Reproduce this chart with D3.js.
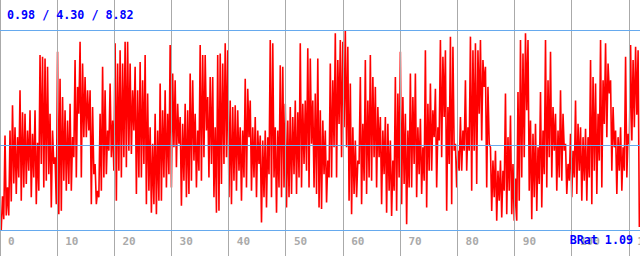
<!DOCTYPE html>
<html><head><meta charset="utf-8">
<script src="https://cdn.jsdelivr.net/npm/d3@7"></script>
<style>html,body{margin:0;padding:0;background:#fff;overflow:hidden}</style>
</head><body><svg id="c" width="640" height="256"></svg>
<script>
// Summary stats shown in the header (min / avg / max)
const statMin = 0.98, statAvg = 4.30, statMax = 8.82;
const bratLabel = "BRat 1.09";
const xTicks = [0,10,20,30,40,50,60,70,80,90,100,110];
const xDomainMax = 112;
// Series values (left to right)
const values = [
1.55,0.98,2.30,1.40, 4.68,1.55,2.65,1.55, 4.88,2.10,5.87,2.80, 5.01,2.39,4.62,3.04,
6.46,2.13,5.60,2.65, 5.54,2.78,4.88,3.30, 5.67,2.26,4.75,3.04, 5.67,1.99,4.40,2.52,
7.84,3.57,7.77,2.65, 7.70,2.91,7.38,3.17, 5.54,1.86,4.88,3.57, 3.83,1.99,7.97,1.60,
6.91,1.73,6.19,2.91, 5.67,2.52,5.27,2.78, 5.93,2.52,4.62,3.83, 7.64,3.04,6.59,5.54,
8.36,3.04,7.51,4.62, 6.98,4.62,6.46,4.88, 6.46,1.99,5.80,3.17, 3.57,1.99,2.52,2.26,
5.54,2.52,7.38,3.04, 6.46,3.17,4.88,4.09, 6.72,3.83,5.27,3.30, 8.30,2.13,7.51,3.30,
8.03,3.04,7.51,3.83, 8.36,3.44,8.36,4.09, 7.51,3.96,6.46,4.88, 7.38,2.39,6.46,3.04,
7.57,3.04,6.85,3.57, 7.84,1.99,6.33,2.52, 5.01,1.66,4.36,1.99, 5.54,1.60,4.88,2.13,
6.72,2.13,5.67,3.04, 6.46,2.65,5.54,3.17, 8.23,2.65,7.11,4.22, 6.85,3.44,5.93,4.36,
5.41,1.93,5.14,2.91, 5.93,2.26,5.67,2.39, 7.11,2.91,6.85,3.70, 5.54,2.65,4.88,3.30,
8.23,2.91,7.84,3.83, 7.84,4.88,6.19,3.04, 6.98,3.57,6.98,2.26, 5.01,1.66,7.84,1.73,
7.90,2.78,7.51,3.57, 8.30,3.83,8.03,2.26, 6.06,1.99,5.80,2.91, 5.87,2.52,5.67,3.30,
5.01,2.13,4.88,3.04, 6.91,2.65,6.52,4.62, 6.06,2.52,5.01,3.04, 5.41,2.26,4.88,3.57,
4.68,1.27,4.49,2.26, 4.88,1.86,4.62,3.17, 8.43,2.26,8.30,3.04, 5.01,1.66,4.88,2.65,
7.44,2.26,7.38,2.65, 5.93,1.86,5.27,2.26, 5.80,2.39,5.41,3.17, 6.06,2.39,5.60,3.04,
8.30,2.65,5.93,3.57, 6.06,3.30,8.10,2.65, 7.70,4.36,6.06,2.65, 6.33,2.39,7.70,1.86,
5.67,1.80,5.27,3.17, 4.88,2.06,3.70,3.04, 7.51,3.04,6.85,4.22, 8.69,3.04,7.64,5.14,
8.43,3.83,8.36,5.01, 8.82,4.22,8.16,2.13, 6.72,1.60,5.01,2.39, 4.49,2.26,3.70,3.57,
6.98,1.99,5.14,2.91, 7.64,2.39,6.06,3.04, 7.84,2.91,6.98,3.83, 6.59,2.65,5.80,3.83,
5.41,1.99,4.88,3.17, 5.41,1.66,5.14,2.52, 4.49,1.53,3.70,2.52, 6.98,1.73,6.33,3.04,
7.97,1.99,6.19,2.78, 5.54,1.21,4.88,2.65, 7.11,2.65,6.19,3.57, 7.11,2.26,5.01,3.17,
5.34,2.39,4.22,2.91, 8.03,1.86,5.93,3.30, 6.72,3.30,5.67,4.62, 6.52,2.65,5.01,4.49,
8.43,3.83,7.77,5.41, 8.03,1.73,5.80,3.57, 8.56,1.99,8.16,4.09, 4.36,2.65,4.09,3.30,
5.41,3.30,4.88,4.09, 6.85,3.30,5.01,4.09, 8.56,2.52,8.03,4.09, 8.30,2.78,8.03,5.54,
8.43,4.49,7.64,6.59, 7.38,2.65,6.59,4.36, 4.22,1.73,3.70,2.26, 4.09,1.34,3.30,2.13,
3.70,1.47,3.30,2.52, 6.33,1.60,4.62,2.52, 5.47,1.60,3.57,1.34, 3.00,1.34,6.39,2.13,
8.43,3.04,7.90,3.83, 8.69,5.67,8.43,2.52, 5.27,1.40,4.75,2.26, 5.14,1.73,4.22,2.78,
6.39,1.86,4.88,3.17, 8.43,2.65,6.85,3.83, 7.97,3.04,5.80,4.09, 5.54,2.52,4.88,3.04,
6.46,2.91,5.54,4.09, 4.36,2.39,3.57,2.91, 4.75,2.26,4.09,3.04, 6.06,2.39,5.14,3.30,
5.01,2.13,4.62,2.91, 4.95,2.13,4.62,3.04, 7.64,1.99,6.98,3.30, 6.72,2.39,5.54,3.70,
8.43,2.65,6.85,5.14, 8.30,4.62,7.51,6.33, 6.85,3.30,5.80,4.22, 4.88,2.39,4.62,3.30,
5.01,2.52,4.22,3.30, 7.77,3.04,4.75,4.36, 8.23,4.49,7.64,5.01, 8.16,5.50,8.03,1.10
];

const W = 640, H = 256;
const svg = d3.select("#c");
const x = d3.scaleLinear().domain([0, xDomainMax]).range([0, 640.6]);
const y = d3.scaleLinear().domain([statMin, statMax]).range([230, 30]);
const step = xDomainMax / values.length;
const pts = values.map((v, i) => [i * step, v]);

svg.append("rect").attr("width", W).attr("height", H).attr("fill", "#fff");

svg.append("path")
  .datum(pts)
  .attr("fill", "none")
  .attr("stroke", "#ff0000")
  .attr("stroke-width", 1.6)
  .attr("stroke-linejoin", "miter")
  .attr("d", d3.line().x(d => x(d[0])).y(d => y(d[1])));

// vertical grid
svg.append("g").selectAll("line").data(xTicks).join("line")
  .attr("x1", d => Math.floor(x(d)) + 0.5).attr("x2", d => Math.floor(x(d)) + 0.5)
  .attr("y1", 0).attr("y2", H)
  .attr("stroke", "#aaaaaa").attr("stroke-width", 1);

// horizontal grid: max, avg, min
svg.append("g").selectAll("line").data([statMax, statAvg, statMin]).join("line")
  .attr("x1", 0).attr("x2", W)
  .attr("y1", d => Math.round(y(d)) + 0.5).attr("y2", d => Math.round(y(d)) + 0.5)
  .attr("stroke", "#66aaee").attr("stroke-width", 1);

// x axis labels
const ax = svg.append("g").attr("transform", "translate(0,0)")
  .call(d3.axisBottom(x).tickValues(xTicks).tickSize(0).tickFormat(d3.format("d")));
ax.select(".domain").remove();
ax.selectAll("text")
  .attr("x", 7.5).attr("y", 245).attr("dy", null)
  .attr("text-anchor", "start")
  .attr("fill", "#aaaaaa")
  .style("font-family", "'DejaVu Sans Mono', monospace")
  .style("font-size", "11px").style("font-weight", "bold");

svg.append("text").attr("x", 7).attr("y", 19)
  .text(`${statMin.toFixed(2)} / ${statAvg.toFixed(2)} / ${statMax.toFixed(2)}`)
  .attr("fill", "#0000ff")
  .style("font-family", "'DejaVu Sans Mono', monospace")
  .style("font-size", "11.7px").style("font-weight", "bold");

svg.append("text").attr("x", 633).attr("y", 244).attr("text-anchor", "end")
  .text(bratLabel)
  .attr("fill", "#0000ff")
  .style("font-family", "'DejaVu Sans Mono', monospace")
  .style("font-size", "11.7px").style("font-weight", "bold");
</script></body></html>
